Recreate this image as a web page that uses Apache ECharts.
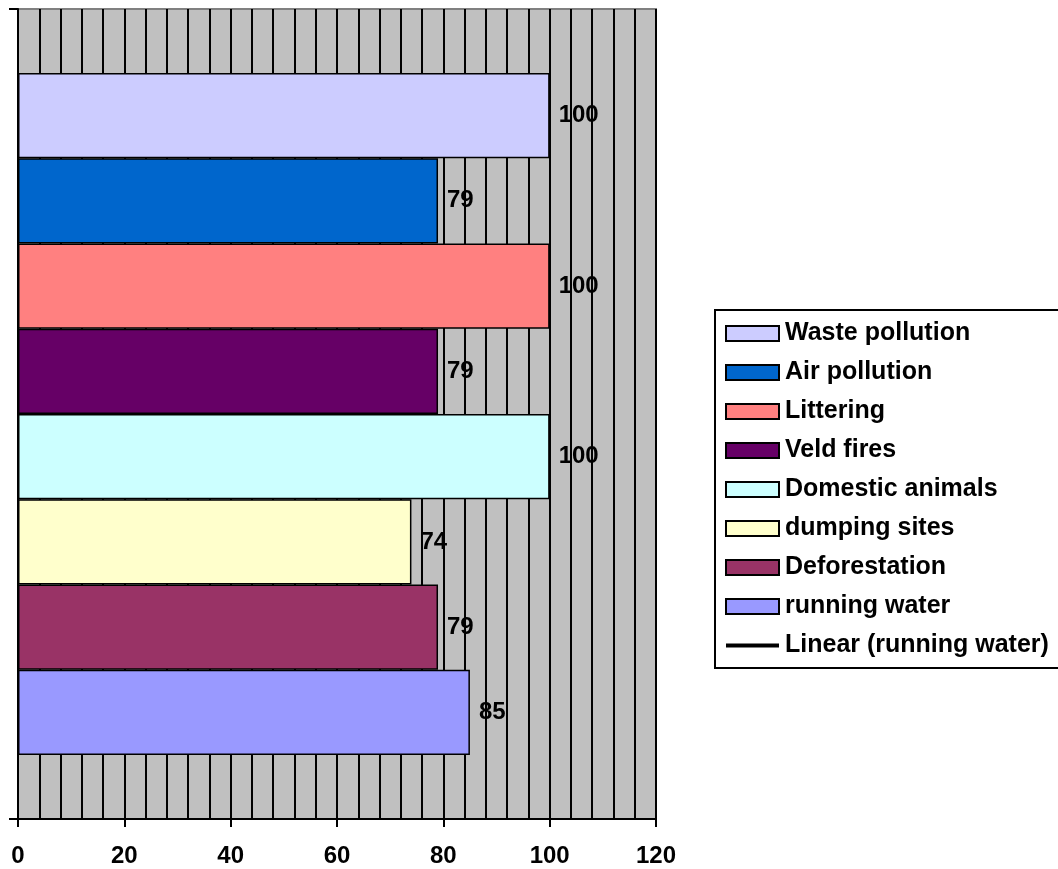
<!DOCTYPE html>
<html>
<head>
<meta charset="utf-8">
<script src="https://cdn.jsdelivr.net/npm/echarts@6/dist/echarts.min.js"></script>
<style>
  html, body { margin: 0; padding: 0; background: #ffffff; }
  #chart { width: 1058px; height: 869px; }
</style>
</head>
<body>
<div id="chart"></div>
<script>
// Environmental problems reported (percent of respondents)
const seriesNames = ['Waste pollution', 'Air pollution', 'Littering', 'Veld fires',
  'Domestic animals', 'dumping sites', 'Deforestation', 'running water'];
const seriesValues = [100, 79, 100, 79, 100, 74, 79, 85];
const seriesColors = ['#CCCCFF', '#0066CC', '#FF8080', '#660066',
  '#CCFFFF', '#FFFFCC', '#993366', '#9999FF'];
const categories = [''];
const trendName = 'Linear (running water)';
const xTicks = [0, 20, 40, 60, 80, 100, 120];

const FONT = 'Liberation Sans, Arial, sans-serif';

const barSeries = seriesNames.map((name, i) => ({
  name: name,
  type: 'bar',
  data: [seriesValues[i]],
  barGap: '0%',
  barCategoryGap: '15.8%',
  itemStyle: { color: seriesColors[i], borderColor: '#000', borderWidth: 1.5 },
  label: {
    show: true, position: 'right', distance: 9,
    color: '#000', fontFamily: FONT, fontWeight: 'bold', fontSize: 24
  },
  emphasis: { disabled: true }
}));

const trend = {
  name: trendName, type: 'line', data: [], symbol: 'none',
  lineStyle: { color: '#000', width: 3 }, itemStyle: { color: '#000' }
};

const legendData = seriesNames.map(n => ({ name: n, icon: 'rect',
    itemStyle: { borderColor: '#000', borderWidth: 2 } }))
  .concat([{ name: trendName, icon: 'path://M0,0 L53,0 L53,4 L0,4 Z',
    itemStyle: { color: '#000', borderWidth: 0 } }]);

const chart = echarts.init(document.getElementById('chart'));
chart.setOption({
  animation: false,
  grid: {
    left: 18, right: 402, top: 9, bottom: 50,
    show: true, backgroundColor: '#C0C0C0', borderColor: '#808080', borderWidth: 2
  },
  legend: {
    orient: 'vertical', left: 715, top: 310,
    padding: [11, 14, 10, 10],
    itemWidth: 53, itemHeight: 15, itemGap: 14,
    symbolKeepAspect: true,
    borderColor: '#000', borderWidth: 2,
    textStyle: { color: '#000', fontFamily: FONT, fontWeight: 'bold', fontSize: 25, padding: [0, 0, 0, 1] },
    data: legendData
  },
  xAxis: {
    type: 'value', min: xTicks[0], max: xTicks[xTicks.length - 1], interval: 20,
    axisLine: { show: true, lineStyle: { color: '#000', width: 2 } },
    axisTick: { show: true, length: 8, lineStyle: { color: '#000', width: 2 } },
    minorTick: { show: true, splitNumber: 5, length: 0 },
    splitLine: { show: true, lineStyle: { color: '#000', width: 2 } },
    minorSplitLine: { show: true, lineStyle: { color: '#000', width: 2 } },
    axisLabel: { color: '#000', fontFamily: FONT, fontWeight: 'bold', fontSize: 24, margin: 25 }
  },
  yAxis: {
    type: 'category', data: categories, inverse: true,
    axisLine: { show: true, onZero: false, lineStyle: { color: '#000', width: 2 } },
    axisTick: { show: true, length: 9, lineStyle: { color: '#000', width: 2 } },
    axisLabel: { show: false },
    splitLine: { show: false }
  },
  series: barSeries.concat([trend])
});
</script>
</body>
</html>
